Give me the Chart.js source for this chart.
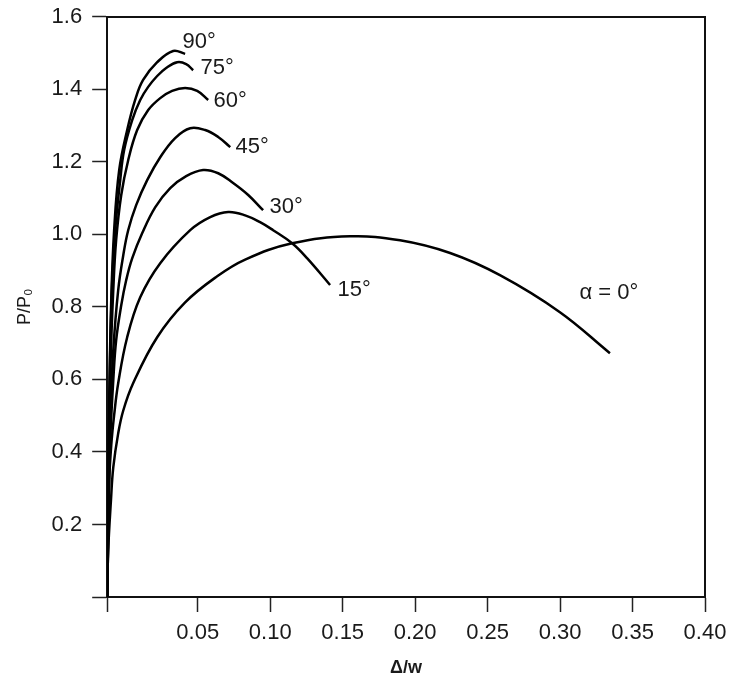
<!DOCTYPE html>
<html>
<head>
<meta charset="utf-8">
<title>P/P0 against Δ/w</title>
<script src="https://cdn.jsdelivr.net/npm/chart.js@4.4.1/dist/chart.umd.min.js"></script>
<style>
  html, body { margin: 0; padding: 0; background: #fff; }
  #wrap { width: 732px; height: 682px; }
</style>
</head>
<body>
<div id="wrap"><canvas id="myChart"></canvas></div>
<script>
'use strict';

// axis range and ticks as printed on the figure
const xMin = -0.0125;
const xMax = 0.40;
const xTicks = [0.05, 0.10, 0.15, 0.20, 0.25, 0.30, 0.35, 0.40];
const yTicks = [0, 0.2, 0.4, 0.6, 0.8, 1.0, 1.2, 1.4, 1.6];

const curveNames = ['90°', '75°', '60°', '45°', '30°', '15°', 'α = 0°'];

// [Δ/w, P/P0]
const curve90 = [[-0.0125, 0], [-0.0118, 0.266], [-0.0111, 0.542], [-0.0097, 0.818], [-0.0077, 1.011],
  [-0.0042, 1.177], [0.0013, 1.287], [0.0068, 1.370], [0.0123, 1.425], [0.0220, 1.474],
  [0.0330, 1.505], [0.0413, 1.497]];
const curve75 = [[-0.0125, 0], [-0.0114, 0.404], [-0.0104, 0.680], [-0.0090, 0.873], [-0.0070, 1.011],
  [-0.0035, 1.149], [-0.0008, 1.232], [0.0047, 1.314], [0.0103, 1.370], [0.0158, 1.406],
  [0.0220, 1.436], [0.0282, 1.458], [0.0358, 1.474], [0.0420, 1.469], [0.0468, 1.452]];
const curve60 = [[-0.0125, 0], [-0.0114, 0.377], [-0.0101, 0.652], [-0.0083, 0.846], [-0.0063, 0.984],
  [-0.0028, 1.108], [0.0020, 1.204], [0.0082, 1.287], [0.0158, 1.342], [0.0241, 1.375],
  [0.0323, 1.395], [0.0413, 1.403], [0.0496, 1.395], [0.0572, 1.370]];
const curve45 = [[-0.0125, 0], [-0.0114, 0.321], [-0.0104, 0.487], [-0.0083, 0.680], [-0.0049, 0.846],
  [-0.0014, 0.942], [0.0020, 1.011], [0.0075, 1.080], [0.0151, 1.149], [0.0241, 1.212],
  [0.0344, 1.265], [0.0448, 1.292], [0.0551, 1.287], [0.0641, 1.268], [0.0724, 1.240]];
const curve30 = [[-0.0125, 0], [-0.0114, 0.266], [-0.0104, 0.432], [-0.0083, 0.597], [-0.0063, 0.708],
  [-0.0028, 0.804], [0.0006, 0.873], [0.0048, 0.934], [0.0117, 1.003], [0.0206, 1.074],
  [0.0310, 1.127], [0.0420, 1.160], [0.0537, 1.177], [0.0641, 1.168], [0.0744, 1.141],
  [0.0848, 1.108], [0.0951, 1.066]];
const curve15 = [[-0.0125, 0], [-0.0118, 0.156], [-0.0111, 0.321], [-0.0097, 0.418], [-0.0077, 0.501],
  [-0.0049, 0.589], [0.0013, 0.716], [0.0103, 0.826], [0.0241, 0.920], [0.0448, 1.011],
  [0.0586, 1.047], [0.0710, 1.061], [0.0827, 1.052], [0.0930, 1.033], [0.1020, 1.011],
  [0.1151, 0.975], [0.1254, 0.934], [0.1413, 0.860]];
const curve0 = [[-0.0125, 0], [-0.0118, 0.128], [-0.0099, 0.266], [-0.0083, 0.357], [-0.0049, 0.451],
  [-0.0014, 0.514], [0.0054, 0.589], [0.0220, 0.716], [0.0413, 0.812], [0.0634, 0.884],
  [0.0827, 0.930], [0.1151, 0.975], [0.1551, 0.994], [0.1896, 0.983], [0.2241, 0.948],
  [0.2585, 0.887], [0.2999, 0.785], [0.3344, 0.672]];

const curves = [curve90, curve75, curve60, curve45, curve30, curve15, curve0];

// where each name sits relative to the end of its curve (px)
const labelOffsets = [[14, -12], [24, -2], [22, 1], [22, 0], [23, -3], [24, 5], [-1, -60]];

const fontFamily = '"Liberation Sans", Arial, Helvetica, sans-serif';
Chart.defaults.font.family = fontFamily;
Chart.defaults.color = '#1a1a1a';

const curveLabels = {
  id: 'curveLabels',
  afterDatasetsDraw(chart) {
    const ctx = chart.ctx;
    ctx.save();
    ctx.font = '22px ' + fontFamily;
    ctx.fillStyle = '#1a1a1a';
    ctx.textAlign = 'center';
    ctx.textBaseline = 'middle';
    chart.data.datasets.forEach((ds, i) => {
      const pts = chart.getDatasetMeta(i).data;
      const end = pts[pts.length - 1];
      ctx.fillText(ds.label, end.x + labelOffsets[i][0], end.y + labelOffsets[i][1]);
    });
    ctx.restore();
  }
};

const datasets = curves.map((c, i) => ({
  label: curveNames[i],
  data: c.map(([x, y]) => ({ x: x, y: y })),
  xAxisID: 'x',
  yAxisID: 'y',
  showLine: true,
  borderColor: '#000',
  borderWidth: 2.5,
  pointRadius: 0,
  tension: 0.4,
}));

// top and right edges of the box
const frameAxis = (position) => ({
  type: 'linear',
  position: position,
  grid: { display: false, drawTicks: false, tickLength: 0 },
  ticks: { display: false },
  border: { color: '#111', width: 2 },
});

const config = {
  type: 'scatter',
  data: { datasets: datasets },
  options: {
    responsive: true,
    maintainAspectRatio: false,
    animation: false,
    layout: { padding: { left: 0, top: 16.5, right: 27, bottom: 0 } },
    plugins: { legend: { display: false }, tooltip: { enabled: false } },
    scales: {
      x: {
        type: 'linear',
        position: 'bottom',
        min: xMin,
        max: xMax,
        afterBuildTicks: (scale) => {
          scale.ticks = [xMin].concat(xTicks).map((v) => ({ value: v }));
        },
        // let the layout padding decide the right edge
        afterFit: (scale) => {
          scale.paddingLeft = 0;
          scale.paddingRight = 0;
        },
        grid: { drawOnChartArea: false, tickLength: 15, tickWidth: 1.5, tickColor: '#222' },
        border: { color: '#111', width: 2 },
        ticks: {
          padding: 8,
          autoSkip: false,
          maxRotation: 0,
          font: { size: 22 },
          callback: (v) => (v < 0 ? '' : v.toFixed(2)),
        },
        title: {
          display: true,
          text: 'Δ/w',
          font: { size: 18, weight: 'bold' },
          padding: { top: 3, bottom: 3 },
        },
      },
      y: {
        type: 'linear',
        position: 'left',
        min: 0,
        max: 1.6,
        afterBuildTicks: (scale) => {
          scale.ticks = yTicks.map((v) => ({ value: v }));
        },
        afterFit: (scale) => {
          scale.paddingTop = 0;
          scale.paddingBottom = 0;
        },
        grid: { drawOnChartArea: false, tickLength: 15, tickWidth: 1.5, tickColor: '#222' },
        border: { color: '#111', width: 2 },
        ticks: {
          padding: 10,
          font: { size: 22 },
          callback: (v) => (v === 0 ? '' : v.toFixed(1)),
        },
        title: {
          display: true,
          text: 'P/P₀',
          font: { size: 18 },
          padding: { top: 14, bottom: 6 },
        },
      },
      x2: frameAxis('top'),
      y2: frameAxis('right'),
    },
  },
  plugins: [curveLabels],
};

let canvasChart = document.getElementById('myChart');
const myChart = new Chart(canvasChart, config);
</script>
</body>
</html>
